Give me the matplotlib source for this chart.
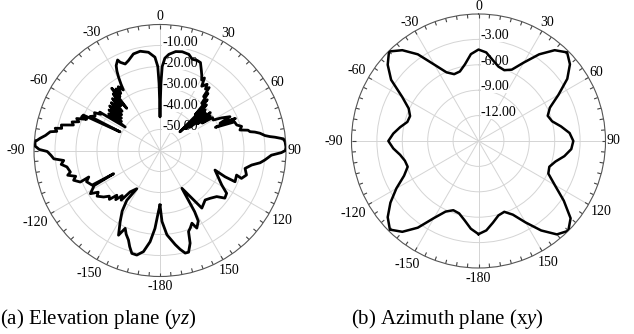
import numpy as np
import matplotlib
matplotlib.use('Agg')
import matplotlib.pyplot as plt

plt.rcParams['font.family'] = 'Liberation Serif'
plt.rcParams['mathtext.fontset'] = 'custom'
plt.rcParams['mathtext.rm'] = 'Liberation Serif'
plt.rcParams['mathtext.it'] = 'Liberation Serif:italic'

# elevation plane (yz), angle in degrees (clockwise from top) and gain in dB,
# listed in drawing order
elev_angle = [-180, -178.5, -176.3, -173.8, -170.7, -167.5, -164.7, -162.5, -160.6, -158,
              -155.9, -153.9, -150.8, -148, -146.3, -148.7, -144.2, -142, -140, -138,
              -136, -134, -132, -129.5, -126, -124, -121.8, -118, -116.6, -117,
              -113, -110.4, -111.6, -109, -107, -105, -103.5, -100, -98, -95.9,
              -94.5, -92.5, -90.5, -89.5, -88, -86, -84.2, -82.5, -80.3, -79.5,
              -78, -77.3, -75.5, -74.2, -73.6, -72, -70.5, -69, -67, -66.7,
              -65.2, -65, -64, -62, -60, -58.5, -57.5, -56, -54.5, -53,
              -51.5, -50, -48.5, -47, -45.5, -44, -42.5, -41, -39.5, -38.3,
              -37.8, -36.6, -35.5, -34.5, -33.2, -32, -31.2, -30.5, -29.5, -28.5,
              -27.3, -25.1, -24.3, -21.9, -19.3, -15.4, -11.3, -6.7, -3.1, -1.5,
              -0.8, -0.3, 0, 0.3, 0.8, 1.5, 3, 5.3, 9, 12.7,
              16.7, 19.4, 22.4, 24.7, 27.5, 29, 30.6, 31.5, 33, 35.4,
              36.5, 38, 39, 40, 41.5, 43, 44.5, 45.5, 46.8, 48,
              49.5, 50.5, 52, 53, 54.5, 55.5, 57, 58, 60.2, 62,
              64.2, 65.6, 67, 67.3, 69, 71.6, 73.5, 75.6, 77, 78.2,
              79, 80.2, 81.9, 82.8, 83.4, 84.6, 86, 88.5, 90, 91,
              92.4, 95.2, 97, 99, 101.9, 105.8, 108.9, 107.8, 112.6, 112,
              109.6, 119.2, 122.7, 126.3, 129.1, 133.6, 137.6, 144, 149.9, 150.5,
              151.5, 154.6, 156.3, 158.5, 160.6, 162, 164.3, 166.2, 168.5, 170.8,
              175.3, 178.4, 180]
elev_gain = [-34, -30.8, -22.8, -16.3, -11.2, -9.0, -9.2, -12, -14.8, -17,
             -19.4, -15.1, -21.1, -26, -31.5, -38.7, -35.7, -30, -32, -28.5,
             -30.4, -26.5, -27.5, -25.2, -23, -24.5, -21, -24.5, -35.3, -23.7,
             -22, -23.8, -19.2, -16.5, -18, -14.5, -16.1, -15, -12.5, -13.9,
             -9.3, -8, -6.3, -2.5, -0.5, -0.3, -2.6, -5, -7, -10,
             -9, -12, -11.5, -15.5, -17, -16, -19, -17.5, -22, -19.4,
             -19.8, -39, -23, -25, -24, -27, -26, -40, -30, -37,
             -29, -36, -28, -35, -27.5, -34, -26.5, -31.7, -25, -34.4,
             -22.5, -28, -24, -27, -23.7, -25, -26.3, -23.5, -20, -17,
             -14.5, -12.4, -13.9, -15.6, -14.6, -12.3, -11.8, -12.9, -15.5, -20,
             -28, -38, -44, -38, -28, -20, -16, -14, -12.3, -11.8,
             -12.2, -13.9, -13.6, -13.9, -17.3, -19, -21, -19.5, -23.5, -21.3,
             -23.6, -22, -27, -24.5, -30, -27, -36, -29, -47, -31,
             -44, -32, -42, -30, -38, -31, -36, -30.5, -30.8, -27,
             -23, -28.6, -21, -31.4, -22, -21.5, -19.5, -20.7, -17, -16.2,
             -14, -11.7, -9.5, -7.2, -4.9, -1.0, -0.3, 0, -0.3, -2.2,
             -6.9, -9.9, -12, -15.8, -18.6, -17.2, -19, -21.7, -21.3, -26.6,
             -32.2, -26.3, -22.3, -21.7, -25.2, -27, -28.1, -26.1, -39.2, -26.5,
             -21.8, -19.1, -22.2, -20.5, -19.1, -13.6, -9.7, -9.7, -12, -14.6,
             -19.7, -26.2, -34]

# azimuth plane (xy), every 5 degrees from -180 to 180
azim_angle = list(range(-180, 185, 5))
azim_gain = [-4.0, -4.6, -5.5, -6.15, -6.3, -5.8, -4.5, -2.5, -1.0, -0.2,
             -1.0, -2.3, -3.8, -5.3, -6.1, -6.0, -5.6, -4.9, -4.35, -4.9,
             -5.6, -6.3, -6.4, -5.9, -4.6, -2.4, -1.0, -0.05, -1.0, -2.5,
             -4.6, -6.05, -6.6, -6.5, -5.8, -4.7, -4.2, -4.5, -5.3, -5.9,
             -6.1, -5.7, -4.3, -2.5, -1.0, -0.2, -0.9, -2.2, -4.1, -5.7,
             -6.3, -6.0, -5.1, -4.2, -3.8, -4.0, -4.7, -5.6, -6.1, -5.9,
             -4.6, -2.7, -0.8, 0.0, -0.6, -2.1, -3.9, -5.4, -6.1, -5.9,
             -5.2, -4.4, -4.0]

theta_ticks = [0, 30, 60, 90, 120, 150, 180, 210, 240, 270, 300, 330]
theta_labels = ['0', '30', '60', '90', '120', '150', '-180', '-150', '-120', '-90', '-60', '-30']
# gap (pixels) between the outer circle and each angle label centre
label_gap = [8, 9.5, 9.5, 8, 15, 13, 10, 16, 18, 18, 14, 10]
elev_rticks = [-50, -40, -30, -20, -10]
elev_rlabels = ['-50.00', '-40.00', '-30.00', '-20.00', '-10.00']
azim_rticks = [-12, -9, -6, -3]
azim_rlabels = ['-12.00', '-9.00', '-6.00', '-3.00']


def style(ax, rmin, radius_px, rticks, rlabels):
    ax.set_theta_zero_location('N')
    ax.set_theta_direction(-1)
    ax.set_ylim(rmin, 0)
    ax.set_yticks(rticks)
    ax.set_yticklabels([])
    ax.set_xticks(np.deg2rad(theta_ticks))
    ax.set_xticklabels([])
    ax.tick_params(axis='x', length=0)
    ax.grid(True, which='major', color='#d4d4d4', lw=0.7)
    ax.spines['polar'].set_color('#555555')
    ax.spines['polar'].set_linewidth(0.8)
    per_px = -rmin / radius_px
    # small inward ruler ticks every 5 degrees on the outer circle
    ax.vlines(np.deg2rad(np.arange(0, 360, 5)), -4 * per_px, 0,
              colors='#444444', lw=0.8, zorder=2)
    for t, s, g in zip(theta_ticks, theta_labels, label_gap):
        ax.text(np.deg2rad(t), g * per_px, s, ha='center', va='center',
                fontsize=10, clip_on=False)
    for r, s in zip(rticks, rlabels):
        ax.annotate(s, xy=(0, r), xytext=(1.5, 2.5), textcoords='offset points',
                    ha='left', va='center', fontsize=10, zorder=2.5,
                    bbox=dict(fc='white', ec='none', pad=0))


fig = plt.figure(figsize=(6.34, 3.34), dpi=100)

ax1 = fig.add_axes([34 / 634, 57.5 / 334, 252 / 634, 252 / 334], projection='polar')
style(ax1, -60, 126, elev_rticks, elev_rlabels)
ax1.plot(np.deg2rad(elev_angle), elev_gain, color='black', lw=2.0, zorder=3)

ax2 = fig.add_axes([351.5 / 634, 66 / 334, 254 / 634, 254 / 334], projection='polar')
style(ax2, -15, 127, azim_rticks, azim_rlabels)
ax2.plot(np.deg2rad(azim_angle), azim_gain, color='black', lw=1.8, zorder=3)

fig.text(0.0, 1 - 319 / 334, '(a) Elevation plane ($yz$)', fontsize=15, va='center')
fig.text(351 / 634, 1 - 319 / 334, '(b) Azimuth plane (x$y$)', fontsize=15, va='center')

fig.savefig('out.png', dpi=100)
